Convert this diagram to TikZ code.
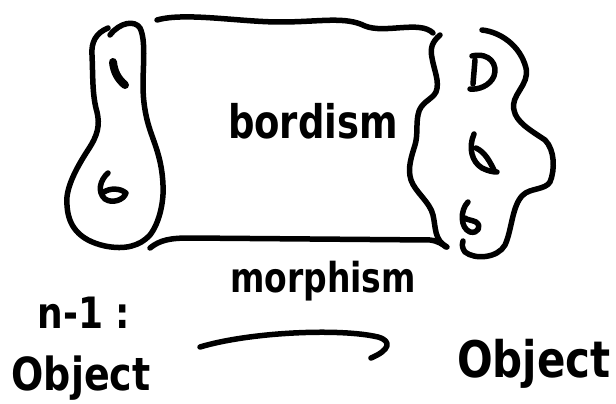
\documentclass[tikz,border=0pt]{standalone}
\usepackage{fontspec}
\setmainfont{DejaVu Sans}
\begin{document}
\begin{tikzpicture}[x=1pt,y=-1pt,
  ink/.style={line width=5.5pt, line cap=round, line join=round},
  dotink/.style={line width=8pt, line cap=round, line join=round},
  hand/.style={font=\bfseries\fontsize{#1}{#1}\selectfont, inner sep=0pt, anchor=base}]
\useasboundingbox (0,0) rectangle (616,404);

% top edge of the bordism
\draw[ink] (157,20) .. controls (185,12) and (240,22) .. (280,22)
  .. controls (320,22) and (345,16) .. (365,26)
  .. controls (385,34) and (420,20) .. (433,33);

% bottom edge of the bordism
\draw[ink] (150,248) .. controls (160,240) and (170,238) .. (190,238)
  -- (430,240) .. controls (438,241) and (442,244) .. (446,247);

% incoming boundary (left blob)
\draw[ink] (108,28) .. controls (96,33) and (91,42) .. (92,55)
  .. controls (93,75) and (92,95) .. (97,112)
  .. controls (100,125) and (98,135) .. (88,150)
  .. controls (75,170) and (65,190) .. (67,205)
  .. controls (68,225) and (78,240) .. (105,246)
  .. controls (125,250) and (140,246) .. (150,235)
  .. controls (160,222) and (164,200) .. (163,185)
  .. controls (162,160) and (155,145) .. (150,130)
  .. controls (145,115) and (143,100) .. (143,85)
  .. controls (143,65) and (146,40) .. (140,28)
  .. controls (135,20) and (120,22) .. (110,35);

% marks inside the left blob
\draw[dotink] (113,62) .. controls (114,72) and (118,79) .. (125,85);
\draw[ink] (108,173) .. controls (100,180) and (97,192) .. (105,199)
  .. controls (112,204) and (124,200) .. (126,193)
  .. controls (120,188) and (110,188) .. (104,192);

% wavy right edge of the bordism
\draw[ink] (440,35) .. controls (432,42) and (430,48) .. (432,58)
  .. controls (434,70) and (440,82) .. (436,92)
  .. controls (432,100) and (420,102) .. (418,115)
  .. controls (416,125) and (418,135) .. (415,145)
  .. controls (412,155) and (407,168) .. (411,180)
  .. controls (415,192) and (430,202) .. (433,215)
  .. controls (436,228) and (434,240) .. (447,247);

% outgoing boundary (right blob)
\draw[ink] (482,30) .. controls (500,32) and (520,45) .. (526,68)
  .. controls (530,85) and (510,95) .. (514,110)
  .. controls (516,122) and (530,130) .. (545,140)
  .. controls (555,150) and (555,170) .. (550,182)
  .. controls (545,190) and (530,188) .. (523,195)
  .. controls (512,205) and (512,230) .. (505,245)
  .. controls (498,258) and (475,260) .. (465,252)
  .. controls (462,248) and (462,245) .. (463,241);

% marks inside the right blob
\draw[ink] (472,56) .. controls (490,52) and (498,65) .. (494,76)
  .. controls (490,86) and (478,90) .. (470,89);
\draw[ink] (475,60) -- (473,84);
\draw[ink] (474,134) .. controls (468,148) and (472,162) .. (482,168)
  .. controls (488,171) and (493,172) .. (497,172);
\draw[ink] (476,148) .. controls (485,152) and (490,162) .. (494,170);
\draw[ink] (468,202) .. controls (460,210) and (460,228) .. (470,232)
  .. controls (478,234) and (482,226) .. (476,222)
  .. controls (472,220) and (467,220) .. (465,218);

% labels
\node[hand=37] (bord) at (313,138) {\scalebox{1}[1.25]{bordism}};
\node[hand=33] (morph) at (323,292) {\scalebox{1}[1.25]{morphism}};
\node[hand=36] (dim) at (84,328) {\scalebox{1}[1.2]{n-1 :}};
\node[hand=38] (objL) at (81,390) {\scalebox{1}[1.2]{Object}};
\node[hand=42] (objR) at (534,377) {\scalebox{1}[1.2]{Object}};

% the arrow between the two objects
\coordinate (arrS) at (200,347);
\coordinate (arrE) at (371,358);
\draw[ink] (arrS) .. controls (250,332) and (340,328) .. (378,337)
  .. controls (392,341) and (390,350) .. (arrE);
\end{tikzpicture}
\end{document}
